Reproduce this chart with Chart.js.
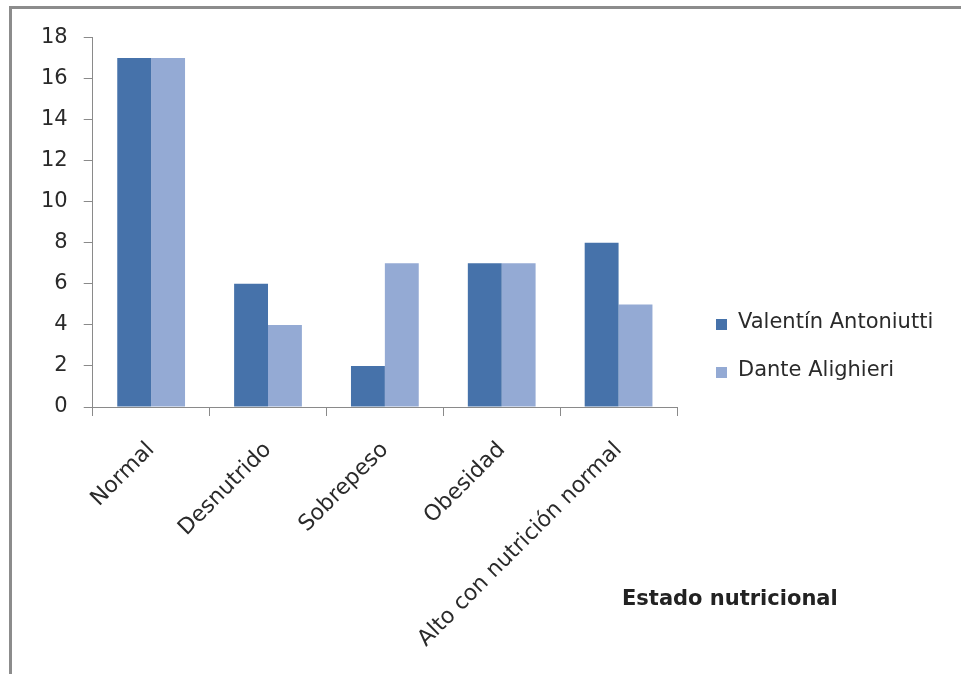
<!DOCTYPE html>
<html>
<head>
<meta charset="utf-8">
<script src="https://cdn.jsdelivr.net/npm/chart.js@4.4.1/dist/chart.umd.min.js"></script>
<style>
  html, body { margin: 0; background: #fff; overflow: hidden; }
  #frame {
    position: absolute; left: 9px; top: 6px;
    width: 949px; height: 665px;
    border-top: 3px solid #8c8c8c; border-left: 3px solid #8c8c8c;
  }
  #chart { display: block; }
</style>
</head>
<body>
<div id="frame"><canvas id="chart" width="949" height="665"></canvas></div>
<script>
// estado nutricional por escuela
const categories = ['Normal', 'Desnutrido', 'Sobrepeso', 'Obesidad', 'Alto con nutrición normal'];
const valentinAntoniutti = [17, 6, 2, 7, 8];
const danteAlighieri = [17, 4, 7, 7, 5];
const seriesNames = ['Valentín Antoniutti', 'Dante Alighieri'];
const yMax = 18;
const yStep = 2;
const axisTitle = 'Estado nutricional';

const FONT = '"DejaVu Sans", Verdana, sans-serif';
const TEXT = '#2a2a2a';
const AXIS = '#8a8a8a';

// legend to the right of the plot plus the axis title underneath it
const sideLabels = {
  id: 'sideLabels',
  afterDraw(chart) {
    const ctx = chart.ctx;
    ctx.save();
    ctx.textAlign = 'left';
    ctx.textBaseline = 'middle';
    ctx.font = '21px ' + FONT;
    chart.data.datasets.forEach((ds, i) => {
      const y = 315 + i * 48;
      ctx.fillStyle = ds.backgroundColor;
      ctx.fillRect(704, y - 5, 11, 11);
      ctx.fillStyle = TEXT;
      ctx.fillText(ds.label, 726, y - 1);
    });
    ctx.font = 'bold 21px ' + FONT;
    ctx.fillStyle = '#222';
    ctx.fillText(axisTitle, 610, 591);
    ctx.restore();
  }
};

new Chart(document.getElementById('chart'), {
  type: 'bar',
  data: {
    labels: categories,
    datasets: [
      {
        label: seriesNames[0],
        data: valentinAntoniutti,
        backgroundColor: '#4672aa',
        categoryPercentage: 0.58,
        barPercentage: 1,
      },
      {
        label: seriesNames[1],
        data: danteAlighieri,
        backgroundColor: '#94aad4',
        categoryPercentage: 0.58,
        barPercentage: 1,
      },
    ],
  },
  options: {
    responsive: false,
    animation: false,
    layout: { padding: { left: 13, top: 28, right: 284, bottom: 15 } },
    plugins: {
      tooltip: { enabled: false },
      legend: { display: false },
    },
    scales: {
      x: {
        afterFit(scale) { scale.height = 252; },
        grid: {
          drawOnChartArea: false,
          tickLength: 9,
          color: AXIS,
        },
        border: { color: AXIS, width: 1 },
        ticks: {
          color: TEXT,
          font: { size: 22, family: FONT },
          minRotation: 45,
          maxRotation: 45,
          padding: 21,
        },
      },
      y: {
        min: 0,
        max: yMax,
        grid: {
          drawOnChartArea: false,
          tickLength: 9,
          color: AXIS,
        },
        border: { color: AXIS, width: 1 },
        ticks: {
          stepSize: yStep,
          color: TEXT,
          padding: 16,
          font: { size: 21, family: FONT },
        },
      },
    },
  },
  plugins: [sideLabels],
});
</script>
</body>
</html>
